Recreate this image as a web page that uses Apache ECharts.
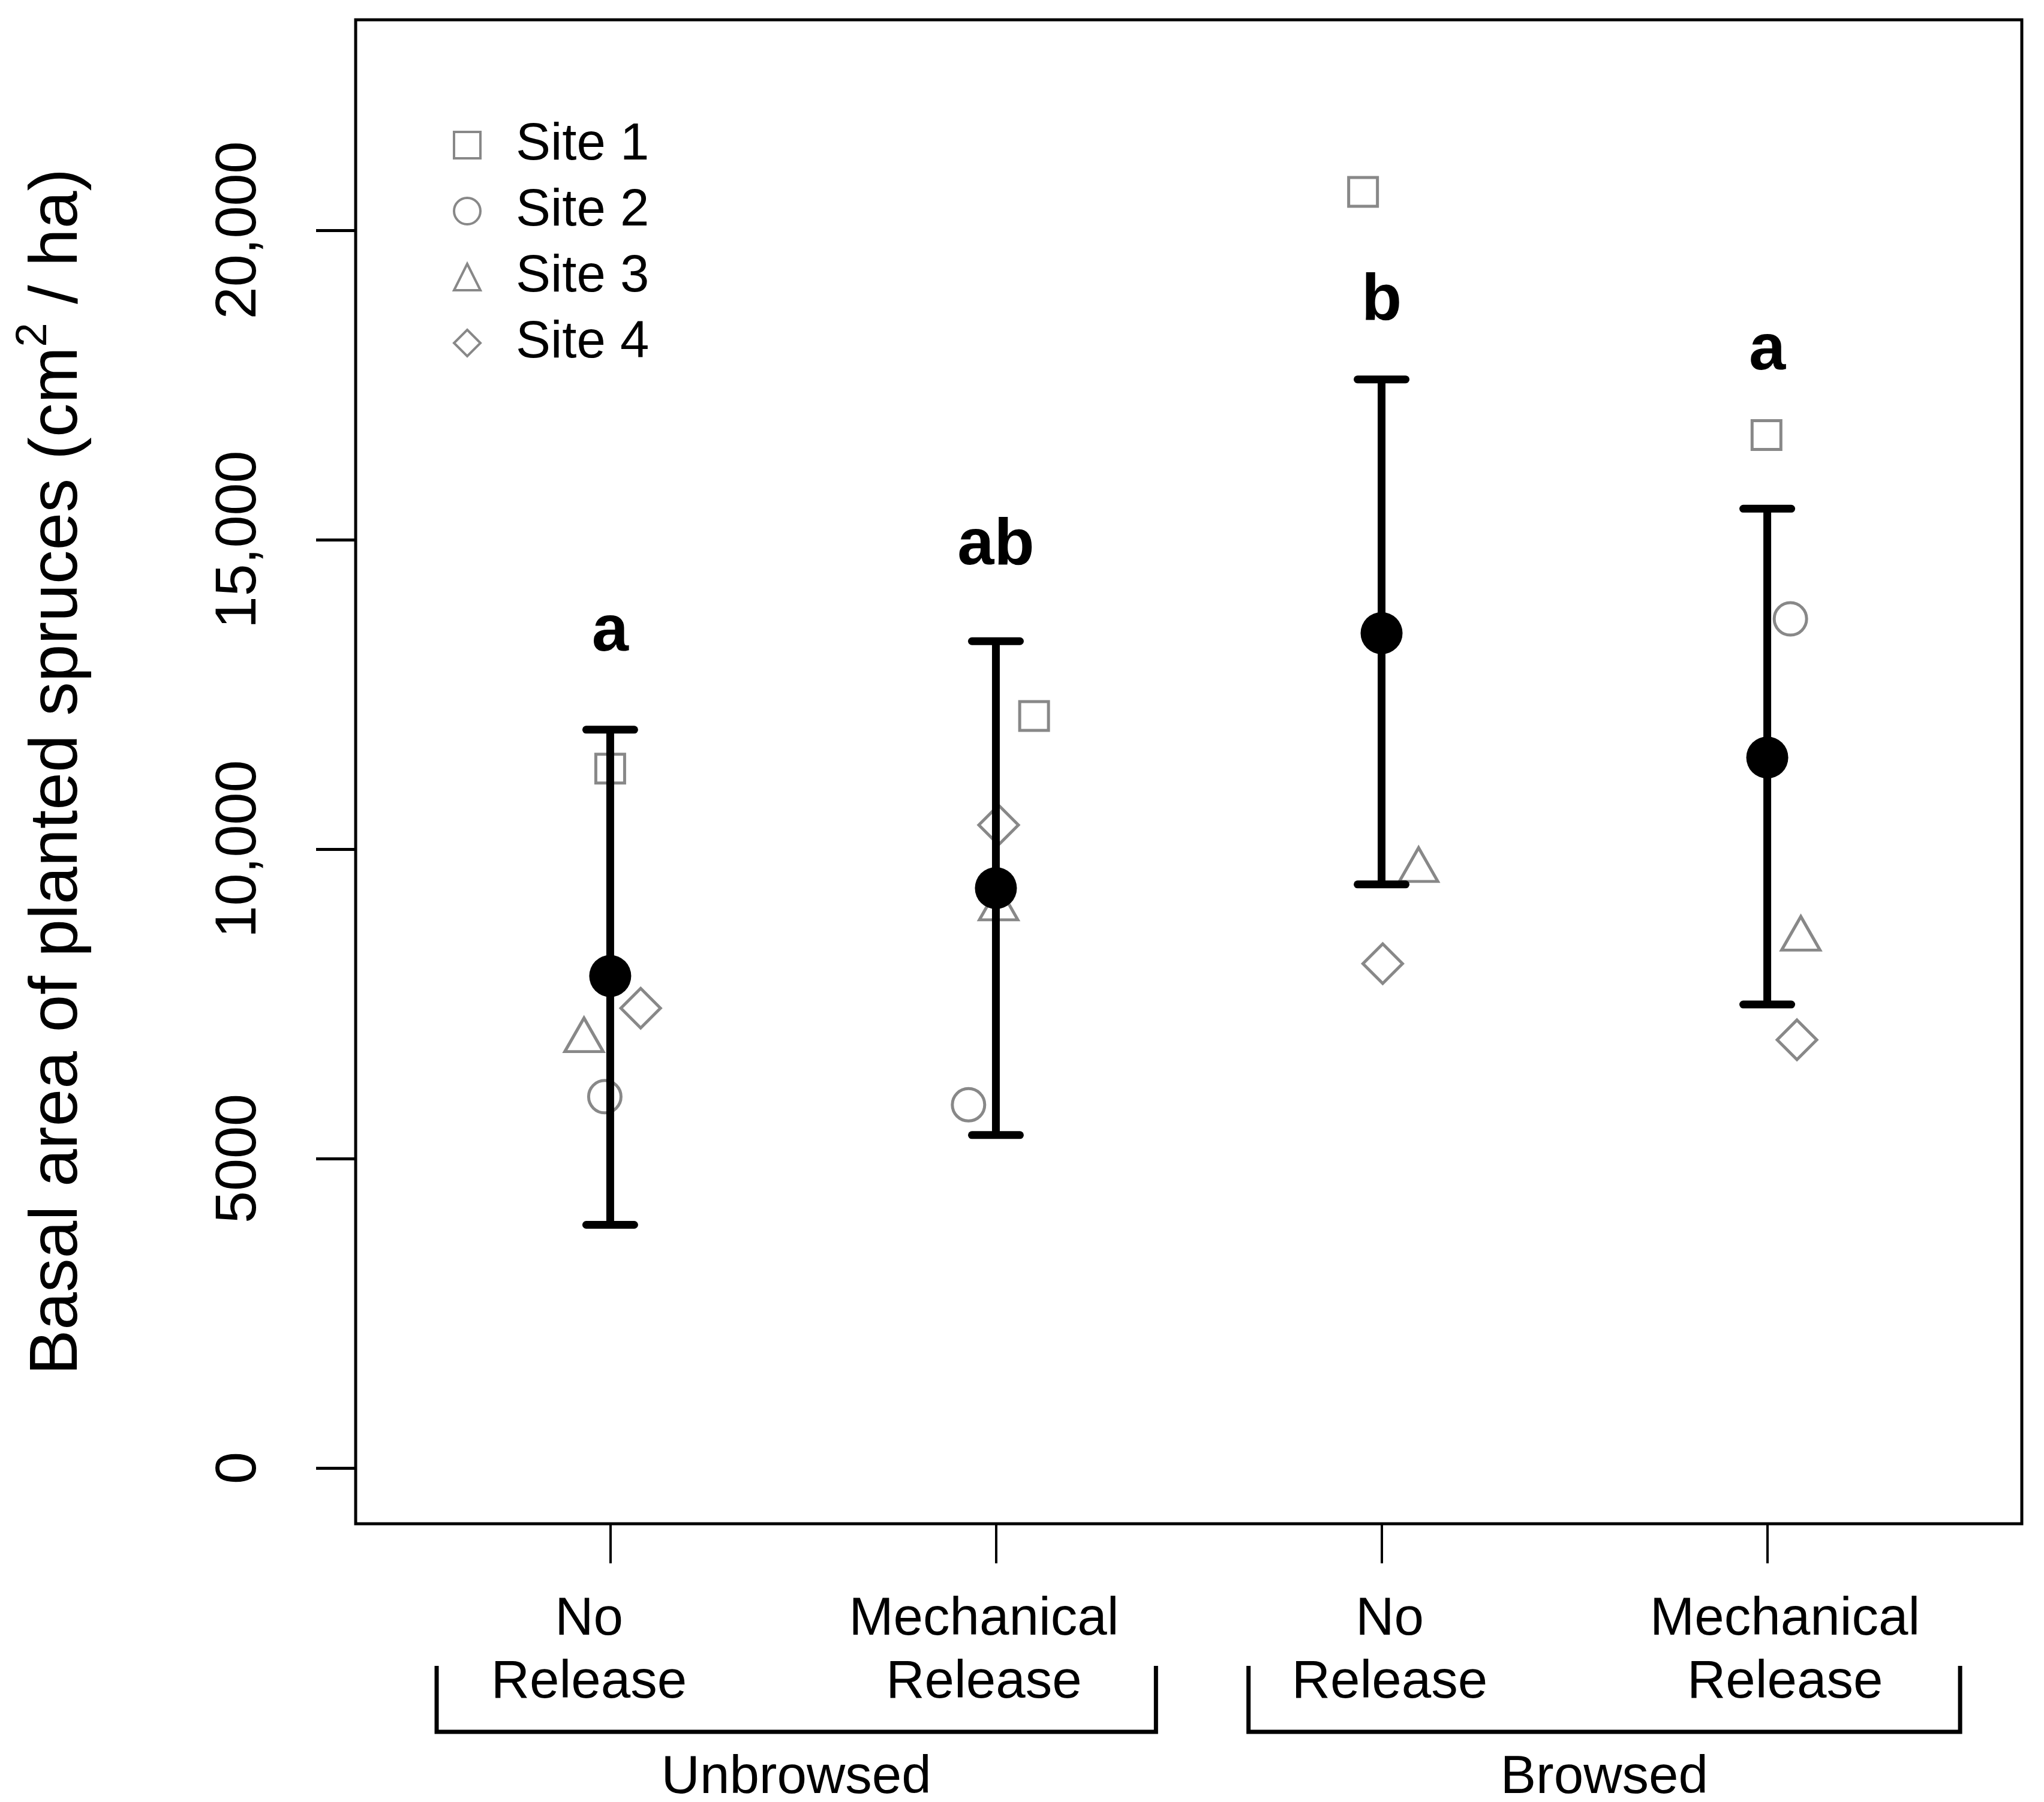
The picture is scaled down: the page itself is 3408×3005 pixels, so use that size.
<!DOCTYPE html>
<html>
<head>
<meta charset="utf-8">
<script src="https://cdn.jsdelivr.net/npm/echarts@6/dist/echarts.min.js"></script>
<style>
  html, body { margin: 0; padding: 0; background: #fff; }
  #chart { width: 3408px; height: 3005px; }
</style>
</head>
<body>
<div id="chart"></div>
<script>
/* 数据 */
var treatments = ['No\nRelease', 'Mechanical\nRelease', 'No\nRelease', 'Mechanical\nRelease'];
var treatmentX = [1, 2, 3, 4];
var groups = ['Unbrowsed', 'Browsed'];
var groupSpan = [[0.55, 2.415], [2.655, 4.5]];

var meanValues = [7950, 9370, 13490, 11480];
var upperValues = [11930, 13360, 17590, 15500];
var lowerValues = [3930, 5380, 9430, 7490];

var letters = ['a', 'ab', 'b', 'a'];
var letterY = [13500, 14900, 18850, 18050];

var site1X = [1.0, 2.099, 2.952, 3.998];
var site1Y = [11300, 12150, 20620, 16690];
var site2X = [0.986, 1.929, 4.06];
var site2Y = [6000, 5870, 13720];
var site3X = [0.932, 2.007, 3.096, 4.087];
var site3Y = [7000, 9130, 9750, 8640];
var site4X = [1.079, 2.007, 3.003, 4.077];
var site4Y = [7430, 10390, 8150, 6920];

var yTickValues = [0, 5000, 10000, 15000, 20000];
var yTickLabels = ['0', '5000', '10,000', '15,000', '20,000'];

/* 样式 */
var FONT = 'Liberation Sans, Arial, sans-serif';
var GRAY = '#888888';
var labelShift = [-0.055, -0.031, 0.021, 0.046]; // x 轴文字相对刻度的偏移

function pairs(xs, ys) {
  return xs.map(function (x, i) { return [x, ys[i]]; });
}

(function () {
  var myEchart = echarts.init(document.getElementById('chart'));

  function siteSeries(name, symbol, size, xs, ys) {
    return {
      name: name,
      type: 'scatter',
      symbol: symbol,
      symbolSize: size,
      data: pairs(xs, ys),
      z: 2,
      itemStyle: {
        color: 'rgba(0,0,0,0)',
        borderColor: GRAY,
        borderWidth: 5,
        opacity: 1
      },
      silent: true
    };
  }

  var option = {
    animation: false,
    grid: {
      left: 593,
      right: 37,
      top: 33,
      bottom: 464,
      show: true,
      borderColor: '#000',
      borderWidth: 5
    },
    legend: {
      data: ['Site 1', 'Site 2', 'Site 3', 'Site 4'],
      orient: 'vertical',
      left: 750,
      top: 192,
      itemWidth: 44,
      itemHeight: 44,
      itemGap: 20,
      itemStyle: { borderWidth: 4 },
      textStyle: {
        fontFamily: FONT,
        fontSize: 87,
        lineHeight: 90,
        color: '#000',
        padding: [0, 0, 0, 54]
      }
    },
    xAxis: {
      type: 'value',
      min: 0.34,
      max: 4.66,
      splitLine: { show: false },
      axisLine: { show: false, onZero: false },
      axisTick: {
        show: true,
        customValues: treatmentX,
        length: 66,
        lineStyle: { color: '#000', width: 4 }
      },
      axisLabel: {
        customValues: treatmentX.map(function (x, i) { return x + labelShift[i]; }),
        formatter: function (v) {
          for (var i = 0; i < treatmentX.length; i++) {
            if (Math.abs(v - treatmentX[i] - labelShift[i]) < 1e-6) return treatments[i];
          }
          return '';
        },
        margin: 108,
        fontFamily: FONT,
        fontSize: 89,
        lineHeight: 105,
        color: '#000'
      }
    },
    yAxis: {
      type: 'value',
      min: -900,
      max: 23400,
      splitLine: { show: false },
      axisLine: { show: false, onZero: false },
      axisTick: {
        show: true,
        customValues: yTickValues,
        length: 66,
        lineStyle: { color: '#000', width: 5 }
      },
      axisLabel: {
        customValues: yTickValues,
        formatter: function (v) {
          var i = yTickValues.indexOf(v);
          return i >= 0 ? yTickLabels[i] : '';
        },
        rotate: 90,
        margin: 145,
        fontFamily: FONT,
        fontSize: 97,
        color: '#000'
      },
      name: '{t|Basal area of planted spruces (cm}{s|2}{t| / ha)}',
      nameLocation: 'middle',
      nameRotate: 90,
      nameGap: 440,
      nameTextStyle: {
        rich: {
          t: { fontFamily: FONT, fontSize: 113, color: '#000', lineHeight: 132, verticalAlign: 'bottom' },
          s: { fontFamily: FONT, fontSize: 72, color: '#000', lineHeight: 72, verticalAlign: 'top' }
        }
      }
    },
    series: [
      siteSeries('Site 1', 'rect', 48, site1X, site1Y),
      siteSeries('Site 2', 'circle', 54, site2X, site2Y),
      siteSeries('Site 3', 'triangle', [64, 56], site3X, site3Y),
      siteSeries('Site 4', 'diamond', [66, 66], site4X, site4Y),
      {
        name: 'CI',
        type: 'custom',
        z: 3,
        silent: true,
        data: treatmentX.map(function (x, i) { return [x, lowerValues[i], upperValues[i]]; }),
        renderItem: function (params, api) {
          var lo = api.coord([api.value(0), api.value(1)]);
          var hi = api.coord([api.value(0), api.value(2)]);
          var hw = 40;
          var style = { stroke: '#000', lineWidth: 13, lineCap: 'round' };
          return {
            type: 'group',
            children: [
              { type: 'line', shape: { x1: lo[0], y1: lo[1], x2: hi[0], y2: hi[1] }, style: { stroke: '#000', lineWidth: 13 } },
              { type: 'line', shape: { x1: lo[0] - hw, y1: lo[1], x2: lo[0] + hw, y2: lo[1] }, style: style },
              { type: 'line', shape: { x1: hi[0] - hw, y1: hi[1], x2: hi[0] + hw, y2: hi[1] }, style: style }
            ]
          };
        }
      },
      {
        name: 'Mean',
        type: 'scatter',
        z: 4,
        silent: true,
        symbol: 'circle',
        symbolSize: 70,
        itemStyle: { color: '#000', opacity: 1 },
        data: pairs(treatmentX, meanValues)
      },
      {
        name: 'Letters',
        type: 'scatter',
        z: 5,
        silent: true,
        symbolSize: 0,
        itemStyle: { opacity: 1 },
        data: pairs(treatmentX, letterY),
        label: {
          show: true,
          position: 'inside',
          formatter: function (p) { return letters[p.dataIndex]; },
          fontFamily: FONT,
          fontSize: 110,
          fontWeight: 'bold',
          color: '#000'
        }
      }
    ]
  };
  myEchart.setOption(option);

  /* 分组括号 */
  function drawBrackets() {
    var elements = [];
    var yLine = 2888;
    var yTop = 2778;
    groups.forEach(function (g, i) {
      var x1 = myEchart.convertToPixel({ xAxisIndex: 0 }, groupSpan[i][0]);
      var x2 = myEchart.convertToPixel({ xAxisIndex: 0 }, groupSpan[i][1]);
      elements.push({
        type: 'polyline',
        shape: { points: [[x1, yTop], [x1, yLine], [x2, yLine], [x2, yTop]] },
        style: { stroke: '#000', lineWidth: 7, fill: null }
      });
      elements.push({
        type: 'text',
        x: (x1 + x2) / 2,
        y: 2965,
        style: {
          text: g,
          fontFamily: FONT,
          fontSize: 89,
          fill: '#000',
          align: 'center',
          verticalAlign: 'middle'
        }
      });
    });
    myEchart.setOption({ graphic: elements });
  }
  drawBrackets();

  window.addEventListener('resize', function () {
    myEchart.resize();
    drawBrackets();
  });
})();
</script>
</body>
</html>
